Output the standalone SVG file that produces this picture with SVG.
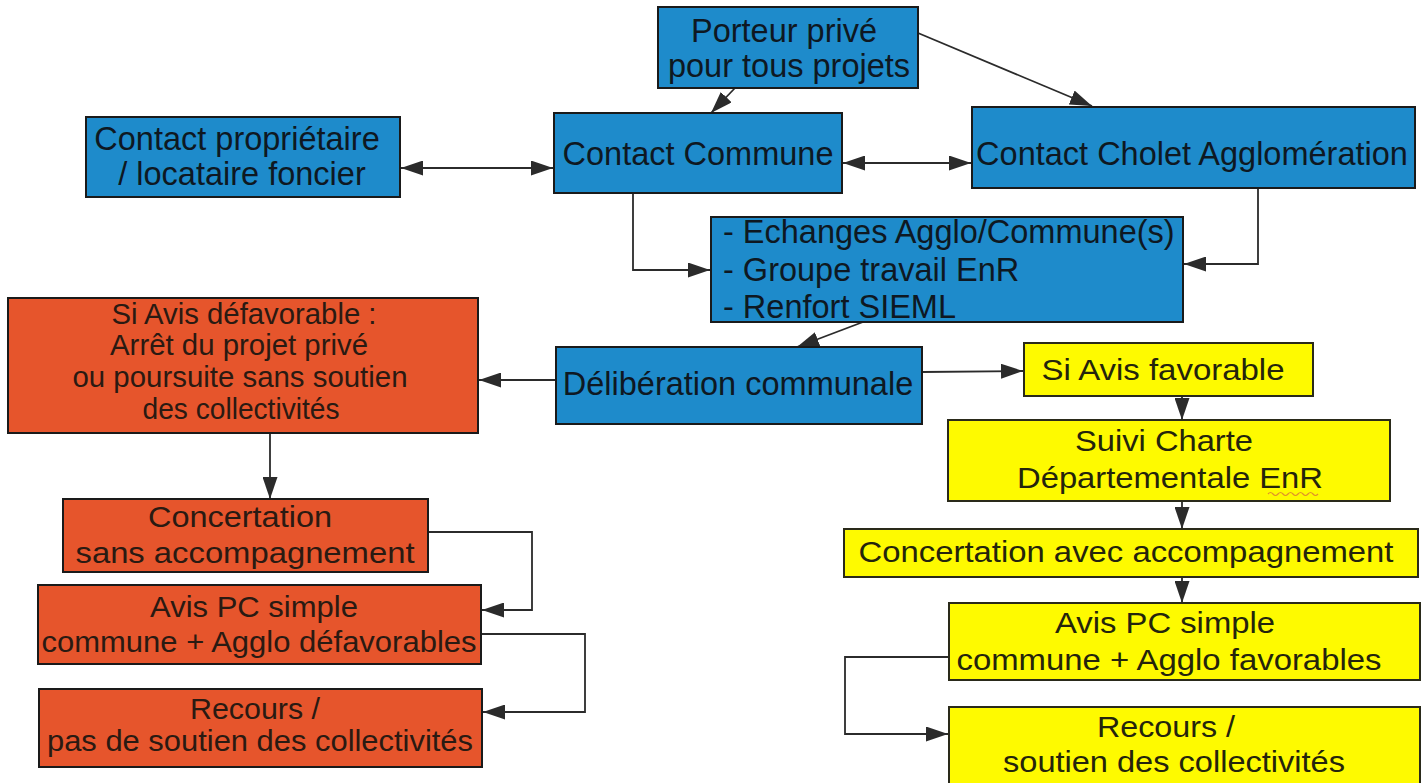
<svg xmlns="http://www.w3.org/2000/svg" width="1426" height="783" viewBox="0 0 1426 783">
<defs>
<style>
.blue{fill:#1E8BCB;stroke:#1a1a1a;stroke-width:2}
.red{fill:#E6552C;stroke:#1a1a1a;stroke-width:2}
.yel{fill:#FEFA00;stroke:#2a2a1a;stroke-width:2}
.tb{font-family:"Liberation Sans",Arial,sans-serif;font-size:32.5px;fill:#0e1822;text-anchor:middle}
.tr{font-family:"Liberation Sans",Arial,sans-serif;font-size:29px;fill:#2a1a12;text-anchor:middle}
.ty{font-family:"Liberation Sans",Arial,sans-serif;font-size:29.5px;fill:#24240c;text-anchor:middle}
.cn{fill:none;stroke:#2b2b2b;stroke-width:1.8}
</style>
<marker id="ah" viewBox="0 0 22 15" refX="22" refY="7.5" markerWidth="22" markerHeight="15" markerUnits="userSpaceOnUse" orient="auto-start-reverse">
<path d="M0,0 L22,7.5 L0,15 Z" fill="#2b2b2b"/>
</marker>
</defs>
<rect width="1426" height="783" fill="#ffffff"/>

<g id="connectors">
<line class="cn" x1="735" y1="88" x2="711" y2="113" marker-end="url(#ah)"/>
<line class="cn" x1="918" y1="33" x2="1092" y2="106" marker-end="url(#ah)"/>
<line class="cn" x1="401" y1="168" x2="553" y2="168" marker-start="url(#ah)" marker-end="url(#ah)"/>
<line class="cn" x1="843" y1="163" x2="971" y2="163" marker-start="url(#ah)" marker-end="url(#ah)"/>
<polyline class="cn" points="633,193 633,270 710,270" marker-end="url(#ah)"/>
<polyline class="cn" points="1258,188 1258,264 1184,264" marker-end="url(#ah)"/>
<line class="cn" x1="863" y1="322" x2="797" y2="347" marker-end="url(#ah)"/>
<line class="cn" x1="556" y1="380" x2="479" y2="380" marker-end="url(#ah)"/>
<line class="cn" x1="922" y1="372" x2="1023" y2="371" marker-end="url(#ah)"/>
<line class="cn" x1="270" y1="433" x2="270" y2="499" marker-end="url(#ah)"/>
<polyline class="cn" points="428,532 532,532 532,610 482,610" marker-end="url(#ah)"/>
<polyline class="cn" points="481,634 585,634 585,712 483,712" marker-end="url(#ah)"/>
<line class="cn" x1="1182" y1="396" x2="1182" y2="420" marker-end="url(#ah)"/>
<line class="cn" x1="1182" y1="501" x2="1182" y2="529" marker-end="url(#ah)"/>
<line class="cn" x1="1182" y1="577" x2="1182" y2="603" marker-end="url(#ah)"/>
<polyline class="cn" points="949,657 845,657 845,734 948,734" marker-end="url(#ah)"/>
</g>

<g id="porteur">
<rect class="blue" x="658" y="7" width="260" height="81"/>
<text class="tb" x="784" y="42">Porteur privé</text>
<text class="tb" x="789" y="77">pour tous projets</text>
</g>

<g id="contact-proprietaire">
<rect class="blue" x="86" y="117" width="314" height="80"/>
<text class="tb" x="237" y="150">Contact propriétaire</text>
<text class="tb" x="242" y="185">/ locataire foncier</text>
</g>

<g id="contact-commune">
<rect class="blue" x="554" y="113" width="288" height="80"/>
<text class="tb" x="698" y="165">Contact Commune</text>
</g>

<g id="contact-cholet">
<rect class="blue" x="972" y="107" width="443" height="81"/>
<text class="tb" x="1192" y="165">Contact Cholet Agglomération</text>
</g>

<g id="echanges">
<rect class="blue" x="711" y="217" width="472" height="105"/>
<text class="tb" x="723" y="243" style="text-anchor:start">- Echanges Agglo/Commune(s)</text>
<text class="tb" x="723" y="281" style="text-anchor:start">- Groupe travail EnR</text>
<text class="tb" x="723" y="318" style="text-anchor:start">- Renfort SIEML</text>
</g>

<g id="deliberation">
<rect class="blue" x="556" y="347" width="366" height="77"/>
<text class="tb" x="738" y="395">Délibération communale</text>
</g>

<g id="avis-defavorable">
<rect class="red" x="8" y="298" width="470" height="135"/>
<text class="tr" x="244" y="324" textLength="265" lengthAdjust="spacingAndGlyphs">Si Avis défavorable :</text>
<text class="tr" x="239" y="355" textLength="258" lengthAdjust="spacingAndGlyphs">Arrêt du projet privé</text>
<text class="tr" x="240" y="387" textLength="335" lengthAdjust="spacingAndGlyphs">ou poursuite sans soutien</text>
<text class="tr" x="241" y="419" textLength="197" lengthAdjust="spacingAndGlyphs">des collectivités</text>
</g>

<g id="concertation-sans">
<rect class="red" x="63" y="499" width="365" height="73"/>
<text class="tr" x="240" y="527" textLength="184" lengthAdjust="spacingAndGlyphs">Concertation</text>
<text class="tr" x="245" y="563" textLength="339" lengthAdjust="spacingAndGlyphs">sans accompagnement</text>
</g>

<g id="avis-pc-defavorables">
<rect class="red" x="38" y="585" width="443" height="79"/>
<text class="tr" x="254" y="617" textLength="208" lengthAdjust="spacingAndGlyphs">Avis PC simple</text>
<text class="tr" x="259" y="652" textLength="435" lengthAdjust="spacingAndGlyphs">commune + Agglo défavorables</text>
</g>

<g id="recours-sans-soutien">
<rect class="red" x="39" y="689" width="443" height="78"/>
<text class="tr" x="255" y="719" textLength="130" lengthAdjust="spacingAndGlyphs">Recours /</text>
<text class="tr" x="260" y="751" textLength="426" lengthAdjust="spacingAndGlyphs">pas de soutien des collectivités</text>
</g>

<g id="avis-favorable">
<rect class="yel" x="1024" y="343" width="289" height="53"/>
<text class="ty" x="1163" y="380" textLength="243" lengthAdjust="spacingAndGlyphs">Si Avis favorable</text>
</g>

<g id="suivi-charte">
<rect class="yel" x="948" y="420" width="442" height="81"/>
<text class="ty" x="1164" y="451" textLength="178" lengthAdjust="spacingAndGlyphs">Suivi Charte</text>
<text class="ty" x="1170" y="488" textLength="306" lengthAdjust="spacingAndGlyphs">Départementale EnR</text>
<path d="M1268,494 q2.5,-3 5,0 t5,0 t5,0 t5,0 t5,0 t5,0 t5,0 t5,0 t5,0 t5,0" fill="none" stroke="#E0902A" stroke-width="1.2"/>
</g>

<g id="concertation-avec">
<rect class="yel" x="844" y="529" width="574" height="48"/>
<text class="ty" x="1126" y="562" textLength="535" lengthAdjust="spacingAndGlyphs">Concertation avec accompagnement</text>
</g>

<g id="avis-pc-favorables">
<rect class="yel" x="949" y="603" width="471" height="77"/>
<text class="ty" x="1165" y="633" textLength="220" lengthAdjust="spacingAndGlyphs">Avis PC simple</text>
<text class="ty" x="1169" y="670" textLength="425" lengthAdjust="spacingAndGlyphs">commune + Agglo favorables</text>
</g>

<g id="recours-soutien">
<rect class="yel" x="949" y="707" width="471" height="80"/>
<text class="ty" x="1166" y="737" textLength="138" lengthAdjust="spacingAndGlyphs">Recours /</text>
<text class="ty" x="1174" y="772" textLength="342" lengthAdjust="spacingAndGlyphs">soutien des collectivités</text>
</g>
</svg>
